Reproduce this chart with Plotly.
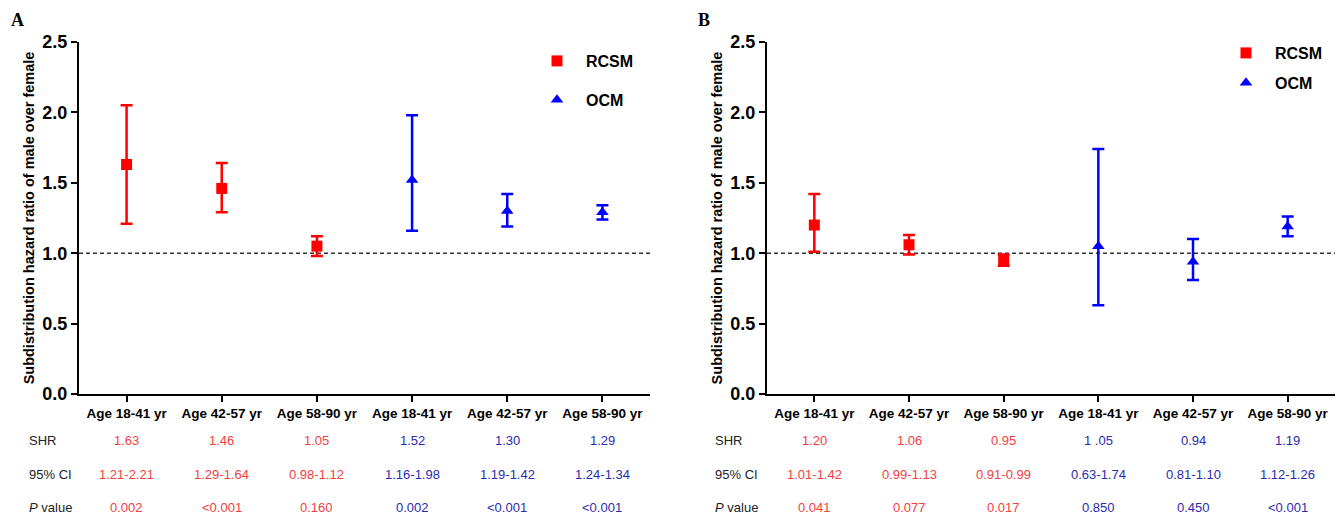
import plotly.graph_objects as go

# ---------------- data ----------------
categories = ["Age 18-41 yr", "Age 42-57 yr", "Age 58-90 yr",
              "Age 18-41 yr", "Age 42-57 yr", "Age 58-90 yr"]
positions = [0, 1, 2, 3, 4, 5]

# Panel A (plotted values)
a_rcsm_shr = [1.63, 1.46, 1.05]
a_rcsm_low = [1.21, 1.29, 0.98]
a_rcsm_up = [2.05, 1.64, 1.12]
a_ocm_shr = [1.52, 1.30, 1.29]
a_ocm_low = [1.16, 1.19, 1.24]
a_ocm_up = [1.98, 1.42, 1.34]

# Panel B (plotted values)
b_rcsm_shr = [1.20, 1.06, 0.95]
b_rcsm_low = [1.01, 0.99, 0.91]
b_rcsm_up = [1.42, 1.13, 0.99]
b_ocm_shr = [1.05, 0.94, 1.19]
b_ocm_low = [0.63, 0.81, 1.12]
b_ocm_up = [1.74, 1.10, 1.26]

# Table text
a_shr_text = ["1.63", "1.46", "1.05", "1.52", "1.30", "1.29"]
a_ci_text = ["1.21-2.21", "1.29-1.64", "0.98-1.12", "1.16-1.98", "1.19-1.42", "1.24-1.34"]
a_p_text = ["0.002", "<0.001", "0.160", "0.002", "<0.001", "<0.001"]
b_shr_text = ["1.20", "1.06", "0.95", "1 .05", "0.94", "1.19"]
b_ci_text = ["1.01-1.42", "0.99-1.13", "0.91-0.99", "0.63-1.74", "0.81-1.10", "1.12-1.26"]
b_p_text = ["0.041", "0.077", "0.017", "0.850", "0.450", "<0.001"]
row_labels = ["SHR", "95% CI", "<i>P</i> value"]

y_ticks = [0.0, 0.5, 1.0, 1.5, 2.0, 2.5]
y_title = "Subdistribution hazard ratio of male over female"

# ---------------- style ----------------
FONT = "Arial, Liberation Sans, sans-serif"
SERIF = "Times New Roman, Liberation Serif, serif"
RED = "#ff0000"
BLUE = "#0000ff"
RED_TXT = "#f2403f"
BLUE_TXT = "#2b2bb0"

W, H = 1340, 517
ML, MR, MT, MB = 79, 5, 42, 123
PW = W - ML - MR
PH = H - MT - MB


def px_x(px):
    return (px - ML) / PW


def px_y(py):
    return (H - MB - py) / PH


fig = go.Figure()


def add_series(xs, shr, low, up, color, symbol, name, xa, ya, legend, group):
    fig.add_trace(go.Scatter(
        x=xs, y=shr, mode="markers", name=name,
        xaxis=xa, yaxis=ya, legend=legend, legendgroup=group,
        marker=dict(symbol=symbol, size=11, color=color),
        error_y=dict(type="data", symmetric=False,
                     array=[u - s for u, s in zip(up, shr)],
                     arrayminus=[s - l for s, l in zip(shr, low)],
                     color=color, thickness=2.5, width=6),
    ))


add_series(positions[:3], a_rcsm_shr, a_rcsm_low, a_rcsm_up, RED, "square", "RCSM", "x", "y", "legend", "a1")
add_series(positions[3:], a_ocm_shr, a_ocm_low, a_ocm_up, BLUE, "triangle-up", "OCM", "x", "y", "legend", "a2")
add_series(positions[:3], b_rcsm_shr, b_rcsm_low, b_rcsm_up, RED, "square", "RCSM", "x2", "y2", "legend2", "b1")
add_series(positions[3:], b_ocm_shr, b_ocm_low, b_ocm_up, BLUE, "triangle-up", "OCM", "x2", "y2", "legend2", "b2")

domA = [0, px_x(650)]
domB = [px_x(767), 1.0]

xaxis_common = dict(
    range=[-0.5, 5.5], tickmode="array", tickvals=positions, ticktext=categories,
    showline=True, linecolor="black", linewidth=2, ticks="outside", ticklen=6,
    tickwidth=2, tickcolor="black", showgrid=False, zeroline=False,
    tickfont=dict(family=FONT, size=13.5, color="black", weight="bold"),
    fixedrange=True,
)
yaxis_common = dict(
    range=[0, 2.5], tickmode="array", tickvals=y_ticks, tickformat=".1f",
    showline=True, linecolor="black", linewidth=2, ticks="outside", ticklen=6,
    tickwidth=2, tickcolor="black", showgrid=False, zeroline=False,
    tickfont=dict(family=FONT, size=18, color="black", weight="bold"),
    title=dict(text=y_title, font=dict(family=FONT, size=14.5, color="black", weight="bold"),
               standoff=4),
    automargin=False, fixedrange=True,
)

fig.update_layout(
    width=W, height=H,
    margin=dict(l=ML, r=MR, t=MT, b=MB),
    plot_bgcolor="white", paper_bgcolor="white",
    xaxis=dict(domain=domA, anchor="y", **xaxis_common),
    yaxis=dict(domain=[0, 1], anchor="x", **yaxis_common),
    xaxis2=dict(domain=domB, anchor="y2", **xaxis_common),
    yaxis2=dict(domain=[0, 1], anchor="x2", **yaxis_common),
    legend=dict(x=px_x(528), y=px_y(44), xanchor="left", yanchor="top",
                font=dict(family=FONT, size=16, color="black", weight="bold"),
                itemwidth=48, tracegroupgap=15, bgcolor="rgba(0,0,0,0)"),
    legend2=dict(x=px_x(1217), y=px_y(36), xanchor="left", yanchor="top",
                 font=dict(family=FONT, size=16, color="black", weight="bold"),
                 itemwidth=48, tracegroupgap=6, bgcolor="rgba(0,0,0,0)"),
    showlegend=True,
)

# reference lines at 1.0
for xr, yr in [("x domain", "y"), ("x2 domain", "y2")]:
    fig.add_shape(type="line", xref=xr, yref=yr, x0=0, x1=1, y0=1.0, y1=1.0,
                  line=dict(color="#333333", width=1.5, dash="4px,3px"), layer="below")

# table annotations
row_y = [px_y(440), px_y(475), px_y(508)]
for xr, shr_t, ci_t, p_t, lab_x in [("x", a_shr_text, a_ci_text, a_p_text, px_x(27)),
                                      ("x2", b_shr_text, b_ci_text, b_p_text, px_x(713))]:
    for lab, ry in zip(row_labels, row_y):
        fig.add_annotation(x=lab_x, y=ry, xref="paper", yref="paper", text=lab,
                           showarrow=False, xanchor="left", yanchor="middle",
                           font=dict(family=FONT, size=13, color="#222222"))
    for rows, ry in zip([shr_t, ci_t, p_t], row_y):
        for i, t in enumerate(rows):
            fig.add_annotation(x=positions[i], y=ry, xref=xr, yref="paper", text=t,
                               showarrow=False, xanchor="center", yanchor="middle",
                               font=dict(family=FONT, size=13,
                                         color=RED_TXT if i < 3 else BLUE_TXT))

# panel letters
for lab, lx in [("A", px_x(9)), ("B", px_x(696))]:
    fig.add_annotation(x=lx, y=px_y(20), xref="paper", yref="paper", text=lab,
                       showarrow=False, xanchor="left", yanchor="middle",
                       font=dict(family=SERIF, size=18, color="black", weight="bold"))

fig.write_html("out.html", config={"displayModeBar": False},
               post_script="document.body.style.margin='0';document.body.style.overflow='hidden';")
